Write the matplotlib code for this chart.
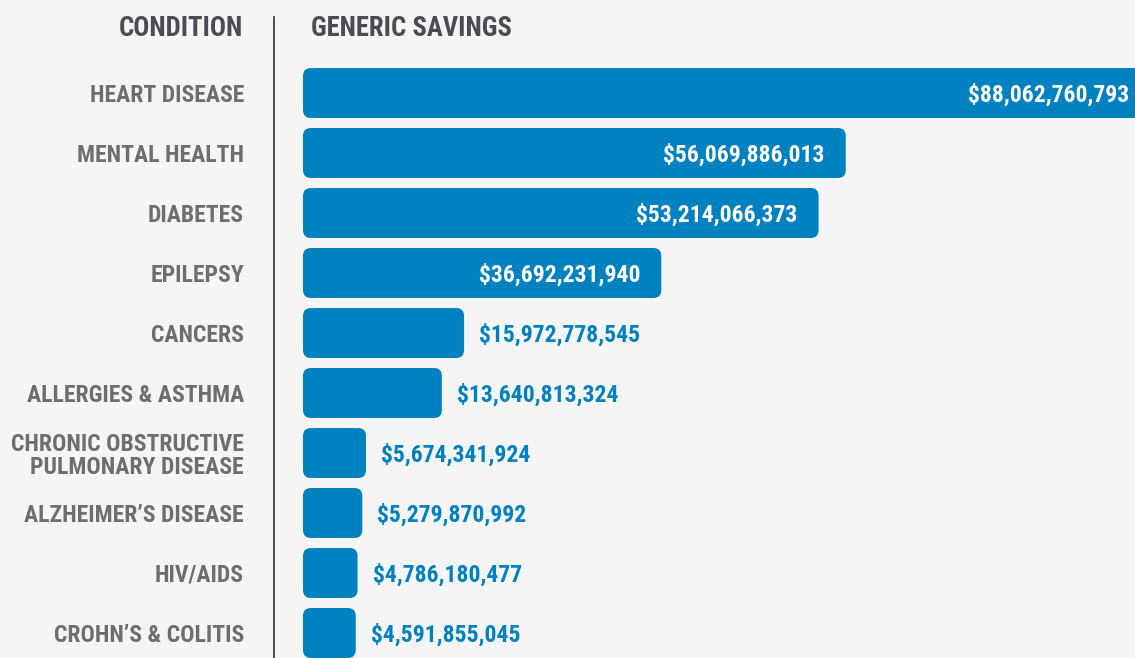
import matplotlib
matplotlib.use('Agg')
import matplotlib.pyplot as plt
from matplotlib.patches import FancyBboxPatch
from matplotlib import font_manager

conditions = ["HEART DISEASE", "MENTAL HEALTH", "DIABETES", "EPILEPSY", "CANCERS",
              "ALLERGIES & ASTHMA", "CHRONIC OBSTRUCTIVE\nPULMONARY DISEASE",
              "ALZHEIMER\u2019S DISEASE", "HIV/AIDS", "CROHN\u2019S & COLITIS"]
savings = [88062760793, 56069886013, 53214066373, 36692231940, 15972778545,
           13640813324, 5674341924, 5279870992, 4786180477, 4591855045]
header_left = "CONDITION"
header_right = "GENERIC SAVINGS"

# font selection
fam = 'DejaVu Sans'
for f in ['Roboto Condensed', 'Liberation Sans Narrow', 'DejaVu Sans']:
    try:
        font_manager.findfont(font_manager.FontProperties(family=f), fallback_to_default=False)
        fam = f
        break
    except Exception:
        pass
plt.rcParams['font.family'] = [fam, 'DejaVu Sans']

BG = '#f5f5f5'
BLUE = '#0082c0'
LABEL = '#6d6e72'
HEAD = '#4b4c51'

W, H = 1135, 658
fig = plt.figure(figsize=(W / 100, H / 100), dpi=100, facecolor=BG)

px_per_b = 9.52
pad_b = 9 / px_per_b
left_px = 303
ax = fig.add_axes([left_px / W, 0, (W - left_px) / W, 1])
ax.set_facecolor(BG)
ax.set_xlim(-pad_b, -pad_b + (W - left_px) / px_per_b)
row_px = 60
first_center = 93
ax.set_ylim((H - first_center) / row_px, -first_center / row_px)
ax.axis('off')

bar_h = 50 / row_px
r_x = 8 / px_per_b
aspect = (8 / row_px) / r_x
cap_px = 17

xmax = ax.get_xlim()[1]
for i, (c, v) in enumerate(zip(conditions, savings)):
    vb = v / 1e9
    p = FancyBboxPatch((-pad_b, i - bar_h / 2), vb + pad_b, bar_h,
                       boxstyle=f"round,pad=0,rounding_size={r_x}",
                       mutation_aspect=aspect, fc=BLUE, ec='none')
    ax.add_patch(p)
    txt = f"${v:,}"
    yb = i + (cap_px / 2) / row_px
    if vb > 30:
        x = min(vb - 21 / px_per_b, xmax - 2 / px_per_b)
        ax.text(x, yb, txt, ha='right', va='baseline', color='white',
                fontsize=17, fontweight='bold')
    else:
        ax.text(vb + 15 / px_per_b, yb, txt, ha='left', va='baseline', color=BLUE,
                fontsize=17, fontweight='bold')
    nlines = c.count('\n') + 1
    y_last = yb + (nlines - 1) * (24.0 / 2) / row_px
    ax.text((244 - left_px) / (W - left_px), y_last, c, transform=ax.get_yaxis_transform(),
            ha='right', va='baseline', color=LABEL, fontsize=17, fontweight='bold',
            linespacing=1.0, clip_on=False)

# headers
fig.text(243 / W, 1 - 36.5 / H, header_left, ha='right', va='baseline', color=HEAD,
         fontsize=19.2, fontweight='bold')
fig.text(311 / W, 1 - 36.5 / H, header_right, ha='left', va='baseline', color=HEAD,
         fontsize=19.2, fontweight='bold')
fig.add_artist(plt.Line2D([274 / W, 274 / W], [0, 1 - 17 / H], color='#333333', lw=1.2))

fig.savefig('out.png', dpi=100, facecolor=BG)
